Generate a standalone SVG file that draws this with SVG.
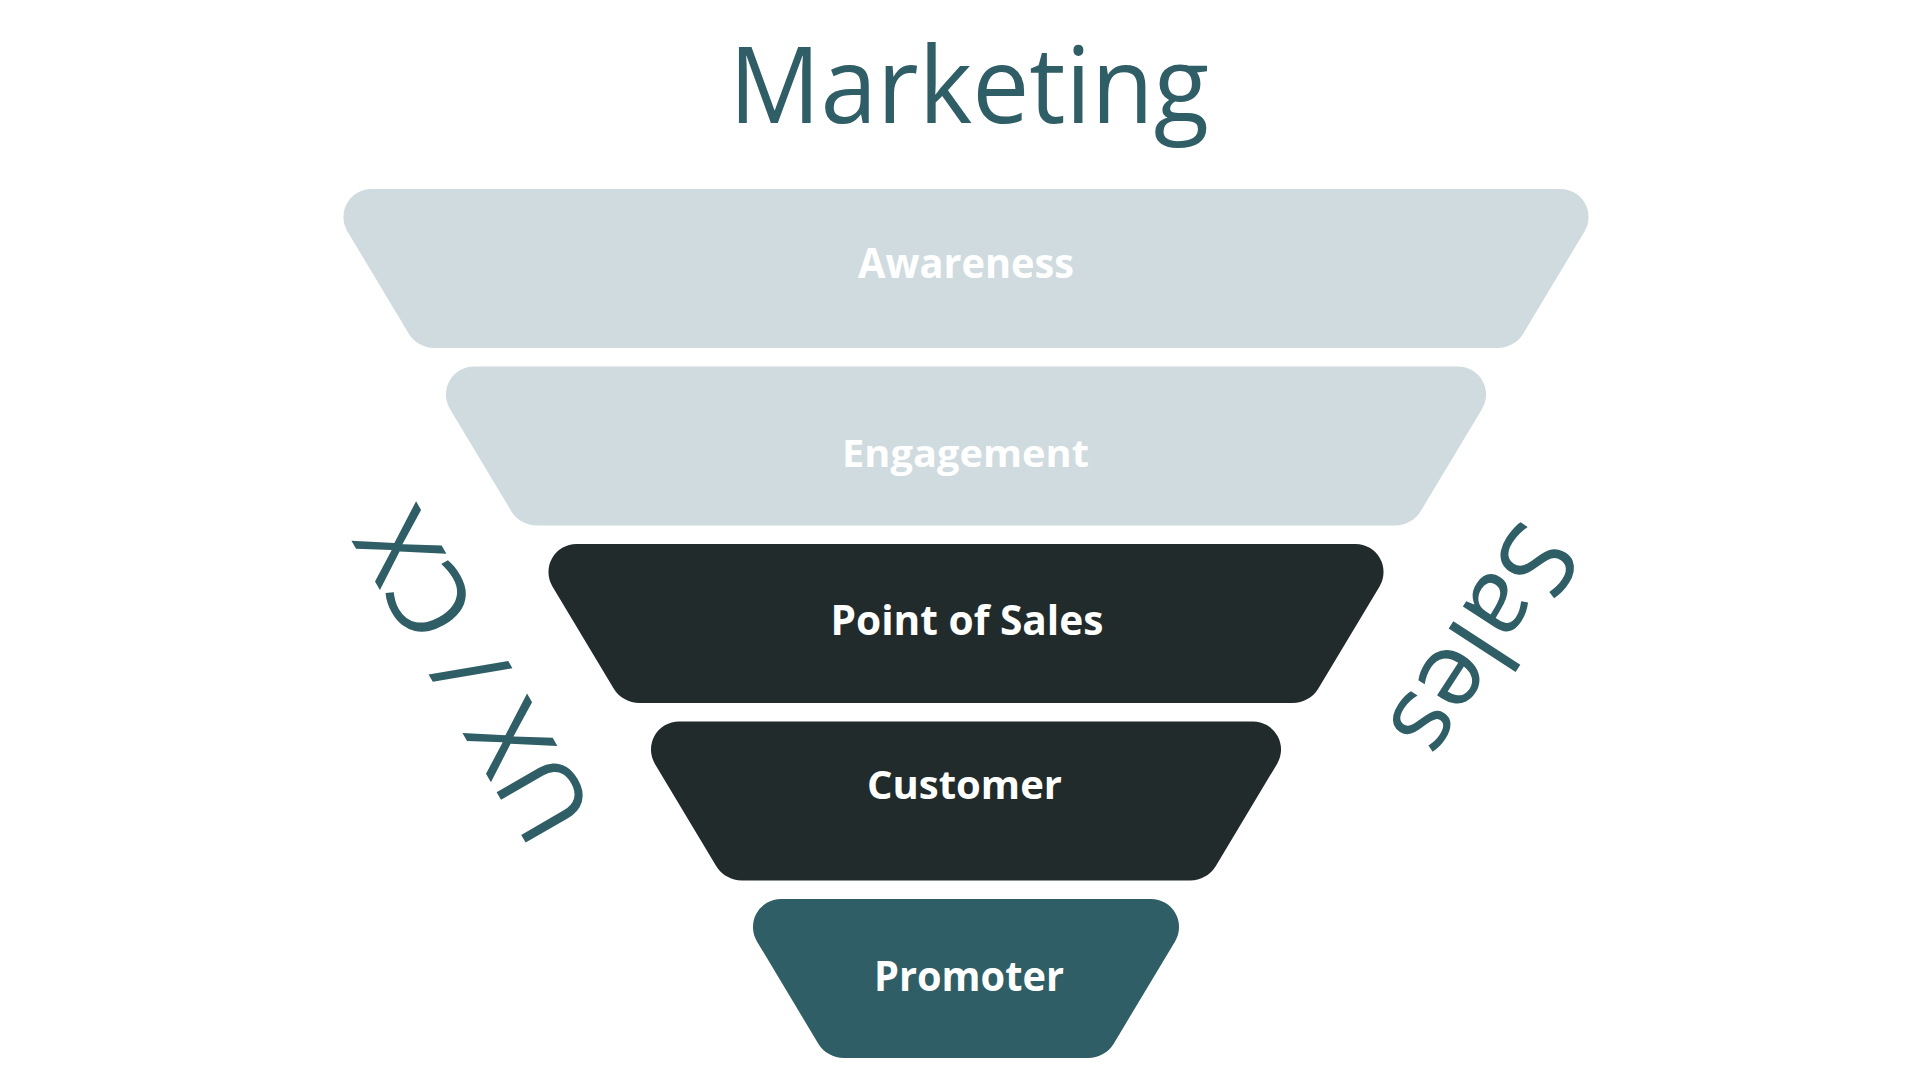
<svg xmlns="http://www.w3.org/2000/svg" width="1920" height="1080" viewBox="0 0 1920 1080">
  <style>
    .light { fill: #CFDBDF; }
    .dark { fill: #212B2B; }
    .teal { fill: #2F5E66; }
    .lbl { font-family: "Open Sans", "Noto Sans", "Liberation Sans", sans-serif; font-weight: 700; fill: #FFFFFF; text-anchor: middle; }
    .side { font-family: "Open Sans", "Noto Sans", "Liberation Sans", sans-serif; font-weight: 400; fill: #2F5E66; text-anchor: middle; }
  </style>
  <rect width="1920" height="1080" fill="#FFFFFF"/>

  <g id="title">
    <text class="side" x="969" y="123" font-size="106" textLength="480" lengthAdjust="spacingAndGlyphs">Marketing</text>
  </g>

  <g id="awareness">
    <path class="light" d="M371.44,189 h1189.12 a28,28 0 0 1 24,42.4 l-61.21,102.02 a30,30 0 0 1 -25.75,14.58 h-1063.2 a30,30 0 0 1 -25.75,-14.58 l-61.21,-102.02 a28,28 0 0 1 24,-42.4 z"/>
    <text class="lbl" x="966" y="278" font-size="41" textLength="216" lengthAdjust="spacingAndGlyphs">Awareness</text>
  </g>

  <g id="engagement">
    <path class="light" d="M473.94,366.5 h984.12 a28,28 0 0 1 24,42.4 l-61.21,102.02 a30,30 0 0 1 -25.75,14.58 h-858.2 a30,30 0 0 1 -25.75,-14.58 l-61.21,-102.02 a28,28 0 0 1 24,-42.4 z"/>
    <text class="lbl" x="965.5" y="467" font-size="37" textLength="247" lengthAdjust="spacingAndGlyphs">Engagement</text>
  </g>

  <g id="point-of-sales">
    <path class="dark" d="M576.44,544 h779.12 a28,28 0 0 1 24,42.4 l-61.21,102.02 a30,30 0 0 1 -25.75,14.58 h-653.2 a30,30 0 0 1 -25.75,-14.58 l-61.21,-102.02 a28,28 0 0 1 24,-42.4 z"/>
    <text class="lbl" x="967" y="635" font-size="42" textLength="273" lengthAdjust="spacingAndGlyphs">Point of Sales</text>
  </g>

  <g id="customer">
    <path class="dark" d="M678.94,721.5 h574.12 a28,28 0 0 1 24,42.4 l-61.21,102.02 a30,30 0 0 1 -25.75,14.58 h-448.2 a30,30 0 0 1 -25.75,-14.58 l-61.21,-102.02 a28,28 0 0 1 24,-42.4 z"/>
    <text class="lbl" x="964.5" y="799" font-size="39" textLength="195" lengthAdjust="spacingAndGlyphs">Customer</text>
  </g>

  <g id="promoter">
    <path class="teal" d="M780.94,899 h370.12 a28,28 0 0 1 24,42.4 l-61.21,102.02 a30,30 0 0 1 -25.75,14.58 h-244.2 a30,30 0 0 1 -25.75,-14.58 l-61.21,-102.02 a28,28 0 0 1 24,-42.4 z"/>
    <text class="lbl" x="969" y="991" font-size="41" textLength="190" lengthAdjust="spacingAndGlyphs">Promoter</text>
  </g>

  <g id="ux-cx">
    <text class="side" font-size="106" transform="translate(506,657) rotate(240)">UX / CX</text>
  </g>

  <g id="sales">
    <text class="side" font-size="105" transform="translate(1453,622) rotate(123)">Sales</text>
  </g>

  <g id="connectors"/>
</svg>
